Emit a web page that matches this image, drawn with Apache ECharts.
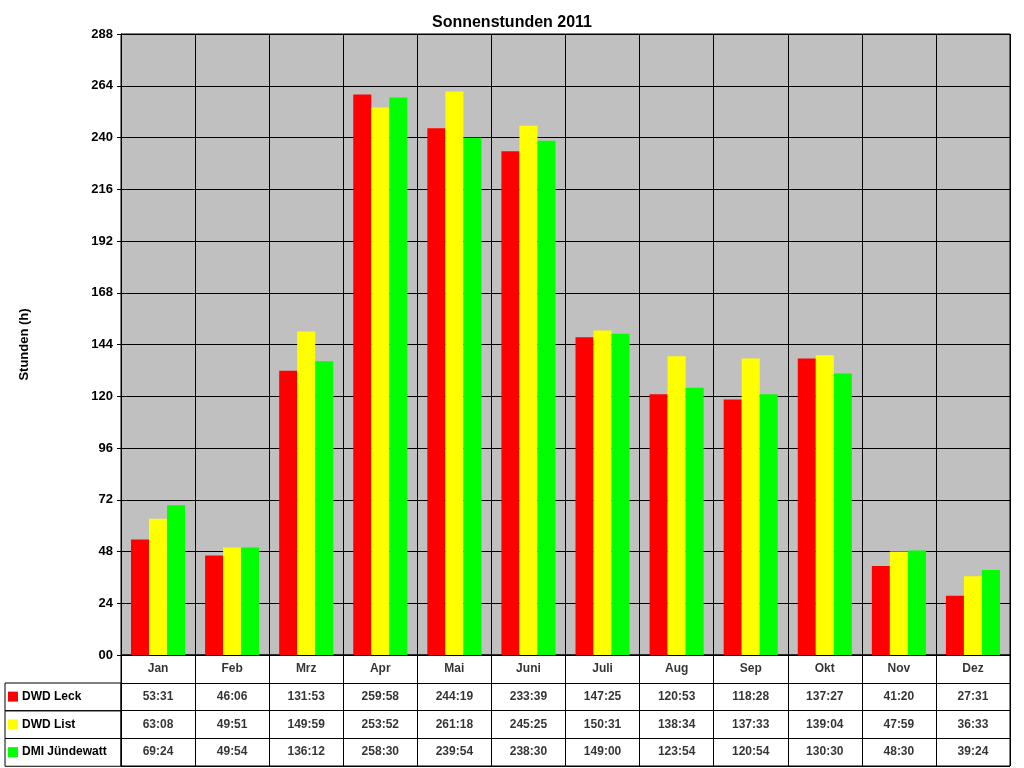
<!DOCTYPE html>
<html><head><meta charset="utf-8">
<script src="https://cdn.jsdelivr.net/npm/echarts@6/dist/echarts.min.js"></script>
<style>html,body{margin:0;padding:0;background:#fff}#c{width:1024px;height:768px}</style>
</head><body><div id="c"></div>
<script>
var months = ['Jan','Feb','Mrz','Apr','Mai','Juni','Juli','Aug','Sep','Okt','Nov','Dez'];
var seriesNames = ['DWD Leck','DWD List','DMI Jündewatt'];
var leck = ['53:31','46:06','131:53','259:58','244:19','233:39','147:25','120:53','118:28','137:27','41:20','27:31'];
var list = ['63:08','49:51','149:59','253:52','261:18','245:25','150:31','138:34','137:33','139:04','47:59','36:33'];
var dmi  = ['69:24','49:54','136:12','258:30','239:54','238:30','149:00','123:54','120:54','130:30','48:30','39:24'];
var colors = ['#ff0000','#ffff00','#00ff00'];
var F = 'Liberation Sans, Arial, sans-serif';

function hours(s){var p=s.split(':');return +p[0]+(+p[1])/60;}
var rows = [leck,list,dmi];
var tableCats = ['DMI Jündewatt','DWD List','DWD Leck',''];

var series = rows.map(function(r,i){
  return {type:'bar',name:seriesNames[i],xAxisIndex:0,yAxisIndex:0,barGap:'0%',barCategoryGap:'27%',
    itemStyle:{color:colors[i]},data:r.map(hours)};
});
var tableData = [];
months.forEach(function(m,j){tableData.push({value:[j,''],txt:m});});
rows.forEach(function(r,i){r.forEach(function(v,j){tableData.push({value:[j,seriesNames[i]],txt:v});});});
series.push({type:'scatter',xAxisIndex:1,yAxisIndex:1,symbolSize:0,silent:true,
  data:tableData,label:{show:true,position:'inside',fontFamily:F,fontSize:12,fontWeight:'bold',color:'#000',
  formatter:function(p){return p.data.txt;}}});

var rich = {};
seriesNames.forEach(function(n,i){rich['s'+i]={backgroundColor:colors[i],width:10,height:10};});
rich.t={fontFamily:F,fontSize:12,fontWeight:'bold',color:'#000',padding:[0,0,0,4]};

var chart = echarts.init(document.getElementById('c'));
chart.setOption({
  animation:false,
  title:{text:'Sonnenstunden 2011',left:'center',top:10,textStyle:{fontFamily:F,fontSize:16,fontWeight:'bold',color:'#000'}},
  grid:[{left:121,right:14,top:34,bottom:113,show:true,backgroundColor:'#c0c0c0',borderColor:'#000',borderWidth:1},
        {left:121,right:14,top:655,height:111,show:true,borderColor:'#000',borderWidth:1}],
  xAxis:[{type:'category',gridIndex:0,data:months,axisLabel:{show:false},axisTick:{show:false},
          axisLine:{lineStyle:{color:'#000'}},splitLine:{show:true,lineStyle:{color:'#000'}}},
         {type:'category',gridIndex:1,data:months,axisLabel:{show:false},axisTick:{show:false},
          axisLine:{show:false},splitLine:{show:true,lineStyle:{color:'#000'}}}],
  yAxis:[{type:'value',gridIndex:0,min:0,max:288,interval:24,name:'Stunden (h)',nameLocation:'middle',nameGap:90,
          nameTextStyle:{fontFamily:F,fontSize:13,fontWeight:'bold',color:'#000'},
          axisLine:{show:true,lineStyle:{color:'#000'}},axisTick:{show:true,length:4,lineStyle:{color:'#000'}},
          axisLabel:{fontFamily:F,fontSize:13,fontWeight:'bold',color:'#000',margin:8,
            formatter:function(v){return (v<10?'0':'')+v;}},
          splitLine:{show:true,lineStyle:{color:'#000'}}},
         {type:'category',gridIndex:1,data:tableCats,axisTick:{show:false},axisLine:{show:false},
          splitLine:{show:true,lineStyle:{color:'#000'}},
          axisLabel:{align:'left',margin:113,rich:rich,formatter:function(v){
            var i=seriesNames.indexOf(v); if(i<0) return ''; return '{s'+i+'|}{t|'+v+'}';}}}],
  graphic:[0,1,2].map(function(i){return {type:'rect',shape:{x:5,y:683+i*27.75,width:116,height:27.75},
    style:{fill:'none',stroke:'#000',lineWidth:1},silent:true};}),
  series:series
});
</script></body></html>
